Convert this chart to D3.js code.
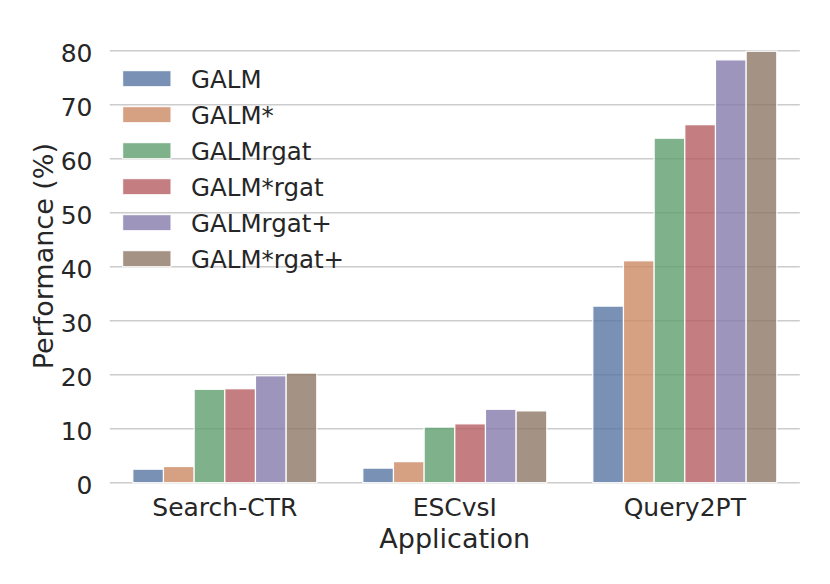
<!DOCTYPE html>
<html>
<head>
<meta charset="utf-8">
<script src="https://cdn.jsdelivr.net/npm/d3@7"></script>
<style>
  html, body { margin: 0; padding: 0; background: #fff; }
  text { font-family: "DejaVu Sans", sans-serif; fill: #262626; }
</style>
</head>
<body>
<svg id="chart" width="830" height="584"></svg>
<script>
const categories = ["Search-CTR", "ESCvsI", "Query2PT"];
const seriesNames = ["GALM", "GALM*", "GALMrgat", "GALM*rgat", "GALMrgat+", "GALM*rgat+"];
const GALM        = [2.5, 2.7, 32.7];
const GALMstar    = [3.0, 3.9, 41.1];
const GALMrgat    = [17.3, 10.3, 63.8];
const GALMstarRgat= [17.4, 10.9, 66.3];
const GALMrgatP   = [19.8, 13.6, 78.3];
const GALMstarRgatP=[20.3, 13.3, 79.9];
const yTicks = [0, 10, 20, 30, 40, 50, 60, 70, 80];
const colors = ["#5875a3", "#cc8963", "#5f9e6e", "#b55d60", "#857aab", "#8d7866"];

const seriesValues = [GALM, GALMstar, GALMrgat, GALMstarRgat, GALMrgatP, GALMstarRgatP];

const svg = d3.select("#chart");
const left = 109.8, right = 799.8;
const x = d3.scaleBand().domain(categories).range([left, right]).paddingInner(0).paddingOuter(0);
const y = d3.scaleLinear().domain([0, 80]).range([482.7, 50.7]);
const groupW = x.bandwidth() * 0.8;
const xs = d3.scaleBand().domain(seriesNames).range([0, groupW]).padding(0);

// grid
svg.append("g").selectAll("line").data(yTicks).join("line")
  .attr("x1", left).attr("x2", right)
  .attr("y1", d => y(d)).attr("y2", d => y(d))
  .attr("stroke", "#cccccc").attr("stroke-width", 1.6);

// bars
const groups = svg.append("g").selectAll("g").data(categories).join("g")
  .attr("transform", d => `translate(${x(d) + (x.bandwidth() - groupW) / 2},0)`);
groups.selectAll("rect").data((c, ci) => seriesNames.map((s, si) => ({s, si, v: seriesValues[si][ci]})))
  .join("rect")
  .attr("x", d => xs(d.s)).attr("width", xs.bandwidth())
  .attr("y", d => y(d.v)).attr("height", d => y(0) - y(d.v))
  .attr("fill", d => colors[d.si]).attr("fill-opacity", 0.8)
  .attr("stroke", "#ffffff").attr("stroke-width", 1.2);

// y ticks
svg.append("g").selectAll("text").data(yTicks).join("text")
  .attr("x", 92.5).attr("y", d => y(d) + 2.5)
  .attr("text-anchor", "end").attr("dominant-baseline", "central")
  .attr("font-size", 25).text(d => d);

// x ticks
svg.append("g").selectAll("text").data(categories).join("text")
  .attr("x", d => x(d) + x.bandwidth() / 2).attr("y", 516)
  .attr("text-anchor", "middle").attr("font-size", 25).text(d => d);

// axis labels
svg.append("text").attr("x", (left + right) / 2).attr("y", 547.5)
  .attr("text-anchor", "middle").attr("font-size", 27).text("Application");
svg.append("text").attr("transform", `translate(53,${(y(0) + 29.6) / 2}) rotate(-90)`)
  .attr("text-anchor", "middle").attr("font-size", 27).text("Performance (%)");

// legend
const leg = svg.append("g").selectAll("g").data(seriesNames).join("g")
  .attr("transform", (d, i) => `translate(0,${78.7 + 36 * i})`);
leg.append("rect").attr("x", 122.7).attr("y", -8).attr("width", 48.3).attr("height", 16)
  .attr("fill", (d, i) => colors[i]).attr("fill-opacity", 0.8)
  .attr("stroke", "#ffffff").attr("stroke-width", 1);
leg.append("text").attr("x", 191).attr("y", 1).attr("dominant-baseline", "central")
  .attr("font-size", 24.5).text(d => d);
</script>
</body>
</html>
